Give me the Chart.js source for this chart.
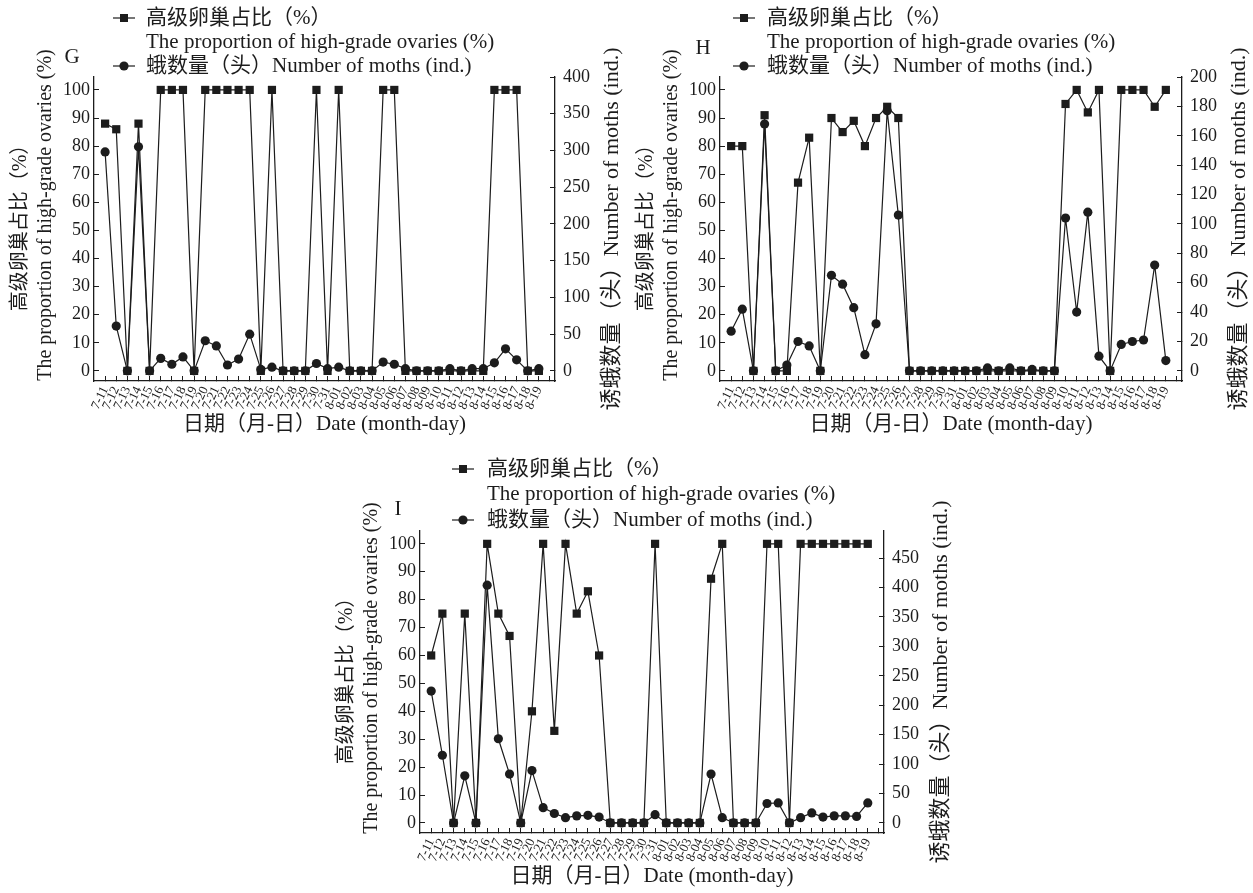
<!DOCTYPE html>
<html>
<head>
<meta charset="utf-8">
<script src="https://cdn.jsdelivr.net/npm/chart.js@4.4.1/dist/chart.umd.min.js"></script>
<style>
  body { margin: 0; background: #fff; width: 1253px; height: 893px; position: relative; overflow: hidden; }
  canvas { position: absolute; }
</style>
</head>
<body>
<canvas id="chartG" width="630" height="440" style="left:0px;top:0px"></canvas>
<canvas id="chartH" width="627" height="440" style="left:626px;top:0px"></canvas>
<canvas id="chartI" width="630" height="441" style="left:326px;top:452px"></canvas>
<script>
// dates (month-day)
const dates = ['7-11','7-12','7-13','7-14','7-15','7-16','7-17','7-18','7-19','7-20',
  '7-21','7-22','7-23','7-24','7-25','7-26','7-27','7-28','7-29','7-30','7-31',
  '8-01','8-02','8-03','8-04','8-05','8-06','8-07','8-08','8-09','8-10',
  '8-11','8-12','8-13','8-14','8-15','8-16','8-17','8-18','8-19'];

// panel G
const ratioG = [88,86,0,88,0,100,100,100,0,100,100,100,100,100,0,100,0,0,0,100,0,
  100,0,0,0,100,100,0,0,0,0,0,0,0,0,100,100,100,0,0];
const mothsG = [298,61,0,305,0,17,9,19,0,41,34,8,16,50,2,5,0,0,0,10,3,
  5,0,0,0,12,9,3,0,0,0,3,0,3,3,11,30,15,0,3];

// panel H
const ratioH = [80,80,0,91,0,0,67,83,0,90,85,89,80,90,94,90,0,0,0,0,0,
  0,0,0,0,0,0,0,0,0,95,100,92,100,0,100,100,100,94,100];
const mothsH = [27,42,0,168,0,4,20,17,0,65,59,43,11,32,177,106,0,0,0,0,0,
  0,0,2,0,2,0,1,0,0,104,40,108,10,0,18,20,21,72,7];

// panel I
const ratioI = [60,75,0,75,0,100,75,67,0,40,100,33,100,75,83,60,0,0,0,0,100,
  0,0,0,0,87.5,100,0,0,0,100,100,0,100,100,100,100,100,100,100];
const mothsI = [224,115,0,80,0,404,143,83,0,89,26,16,9,12,13,10,0,0,0,0,14,
  0,0,0,0,83,9,0,0,0,33,34,0,9,17,10,12,12,11,34];

// tick labels
const ratioTicks = [0,10,20,30,40,50,60,70,80,90,100];
const mothTicksG = [0,50,100,150,200,250,300,350,400];
const mothTicksH = [0,20,40,60,80,100,120,140,160,180,200];
const mothTicksI = [0,50,100,150,200,250,300,350,400,450];

const legendText = ['高级卵巢占比（%）', 'The proportion of high-grade ovaries (%)', '蛾数量（头）Number of moths (ind.)'];
const leftTitle = ['高级卵巢占比（%）', 'The proportion of high-grade ovaries (%)'];
const rightTitle = '诱蛾数量（头）Number of moths (ind.)';
const xTitle = '日期（月-日）Date (month-day)';

const SERIF = "'Liberation Serif', 'Noto Sans CJK SC', serif";
const INK = '#1c1c1c';

function drawMarker(ctx, style, x, y) {
  ctx.beginPath();
  if (style === 'rect') ctx.rect(x - 4, y - 4, 8, 8);
  else ctx.arc(x, y, 4.6, 0, Math.PI * 2);
  ctx.fill();
}

function rotText(ctx, text, x, y) {
  ctx.save();
  ctx.translate(x, y);
  ctx.rotate(-Math.PI / 2);
  ctx.textAlign = 'center';
  ctx.fillText(text, 0, 0);
  ctx.restore();
}

// legend, panel letter and axis titles
const decor = {
  id: 'decor',
  afterDraw(chart, args, o) {
    const ctx = chart.ctx, a = chart.chartArea;
    ctx.save();
    ctx.fillStyle = INK;
    ctx.strokeStyle = INK;
    ctx.lineWidth = 1.2;
    ctx.textBaseline = 'middle';

    ctx.font = '21px ' + SERIF;
    ctx.textAlign = 'center';
    ctx.fillText(o.letter, o.letterX, o.letterY);

    ctx.textAlign = 'left';
    [[0, 'rect'], [2, 'circle']].forEach(([row, st]) => {
      const y = o.legY[row];
      ctx.beginPath();
      ctx.moveTo(o.legX, y);
      ctx.lineTo(o.legX + 22, y);
      ctx.stroke();
      drawMarker(ctx, st, o.legX + 11, y);
    });
    ctx.font = '21px ' + SERIF;
    legendText.forEach((t, i) => ctx.fillText(t, o.legTextX, o.legY[i]));

    const midY = (a.top + a.bottom) / 2;
    ctx.font = '20px ' + SERIF;
    rotText(ctx, leftTitle[0], 21, midY - 6);
    rotText(ctx, leftTitle[1], 46, midY - 14);
    ctx.font = '22px ' + SERIF;
    rotText(ctx, rightTitle, a.right + 57, midY);
    ctx.font = '21px ' + SERIF;
    ctx.textAlign = 'center';
    ctx.fillText(xTitle, (a.left + a.right) / 2, a.bottom + 43);
    ctx.restore();
  }
};

const pts = arr => arr.map((v, i) => ({ x: i, y: v }));
const setTicks = vals => scale => { scale.ticks = vals.map(v => ({ value: v })); };

function makeChart(id, p) {
  const cv = document.getElementById(id);
  const W = cv.width, H = cv.height;
  const tickFont = { family: SERIF, size: 18 };
  return new Chart(cv, {
    type: 'line',
    data: {
      datasets: [
        { data: pts(p.ratio), yAxisID: 'yL', borderColor: INK, backgroundColor: INK, borderWidth: 1.2,
          pointStyle: 'rect', pointRadius: 5.8, pointBorderWidth: 0, tension: 0 },
        { data: pts(p.moths), yAxisID: 'yR', borderColor: INK, backgroundColor: INK, borderWidth: 1.2,
          pointStyle: 'circle', pointRadius: 4.6, pointBorderWidth: 0, tension: 0 }
      ]
    },
    plugins: [decor],
    options: {
      responsive: false,
      animation: false,
      events: [],
      layout: { padding: { top: p.area.top, left: 0, right: 0, bottom: 0 } },
      plugins: { legend: { display: false }, tooltip: { enabled: false }, decor: p.decor },
      scales: {
        x: {
          type: 'linear', min: -1, max: 40.45, bounds: 'data',
          afterBuildTicks: setTicks(dates.map((d, i) => i).concat([40])),
          afterFit: s => { s.height = H - p.area.bottom; },
          ticks: { autoSkip: false, minRotation: 65, maxRotation: 65, padding: 8, color: INK,
            font: { family: SERIF, size: 13 }, callback: v => dates[v] ?? '' },
          grid: { drawOnChartArea: false, drawTicks: true, tickLength: -5, color: INK, lineWidth: 1 },
          border: { display: true, color: INK, width: 1.3 }
        },
        yL: {
          type: 'linear', position: 'left', min: -3.6, max: 104.6, bounds: 'data',
          afterBuildTicks: setTicks(ratioTicks),
          afterFit: s => { s.width = p.area.left; },
          ticks: { padding: 9, color: INK, font: tickFont },
          grid: { drawOnChartArea: false, drawTicks: true, tickLength: -5, color: INK, lineWidth: 1 },
          border: { display: true, color: INK, width: 1.3 }
        },
        yR: {
          type: 'linear', position: 'right', min: p.rMin, max: p.rMax, bounds: 'data',
          afterBuildTicks: setTicks(p.rTicks),
          afterFit: s => { s.width = W - p.area.right; },
          ticks: { padding: 13, color: INK, font: tickFont },
          grid: { drawOnChartArea: false, drawTicks: true, tickLength: -5, color: INK, lineWidth: 1 },
          border: { display: true, color: INK, width: 1.3 }
        }
      }
    }
  });
}

makeChart('chartG', {
  ratio: ratioG, moths: mothsG, rTicks: mothTicksG, rMin: -13.8, rMax: 400,
  area: { left: 94, right: 555, top: 77, bottom: 381 },
  decor: { letter: 'G', letterX: 72, letterY: 57, legX: 113, legTextX: 146, legY: [18, 42, 66] }
});
makeChart('chartH', {
  ratio: ratioH, moths: mothsH, rTicks: mothTicksH, rMin: -6.9, rMax: 200,
  area: { left: 94, right: 556, top: 77, bottom: 381 },
  decor: { letter: 'H', letterX: 77, letterY: 48, legX: 107, legTextX: 141, legY: [18, 42, 66] }
});
makeChart('chartI', {
  ratio: ratioI, moths: mothsI, rTicks: mothTicksI, rMin: -17.1, rMax: 496,
  area: { left: 94, right: 558, top: 79, bottom: 381 },
  decor: { letter: 'I', letterX: 72, letterY: 57, legX: 126, legTextX: 161, legY: [17, 42, 68] }
});
</script>
</body>
</html>
